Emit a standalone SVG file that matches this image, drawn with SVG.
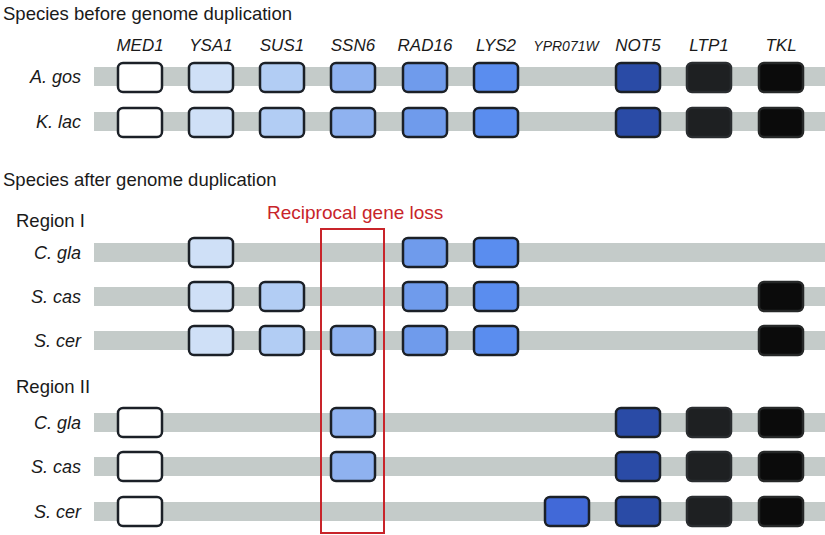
<svg xmlns="http://www.w3.org/2000/svg" width="825" height="535" viewBox="0 0 825 535">
<style>
.bg{fill:#ffffff}
.bar{fill:#c4cbc9}
.g{stroke:#1b2027;stroke-width:2.5}
.title{font-family:"Liberation Sans",Arial,sans-serif;font-size:18.5px;fill:#1a1a1a}
.gene{font-family:"Liberation Sans",Arial,sans-serif;font-size:17px;font-style:italic;fill:#1a1a1a;text-anchor:middle}
.sp{font-family:"Liberation Sans",Arial,sans-serif;font-size:18px;font-style:italic;fill:#1a1a1a;text-anchor:end}
.red{font-family:"Liberation Sans",Arial,sans-serif;font-size:19px;fill:#c8242a}
.c0{fill:#ffffff}.c1{fill:#cfe0f7}.c2{fill:#b2cdf4}.c3{fill:#8fb2f0}.c4{fill:#6f9bec}.c5{fill:#5a8def}.c6{fill:#4169d8}.c7{fill:#2a4ba6}.c8{fill:#1e2022;stroke:#2a2d30}.c9{fill:#0b0b0b;stroke:#262828}
</style>
<rect class="bg" x="0" y="0" width="825" height="535"/>
<text class="title" x="3" y="20">Species before genome duplication</text>
<text class="title" x="3" y="186">Species after genome duplication</text>
<text class="title" x="16" y="227">Region I</text>
<text class="title" x="16" y="393">Region II</text>
<g id="gene-labels">
<text class="gene" x="140" y="51">MED1</text>
<text class="gene" x="211" y="51">YSA1</text>
<text class="gene" x="282" y="51">SUS1</text>
<text class="gene" x="353" y="51">SSN6</text>
<text class="gene" x="425" y="51">RAD16</text>
<text class="gene" x="496" y="51">LYS2</text>
<text class="gene" x="566" y="51" style="font-size:14px">YPR071W</text>
<text class="gene" x="638" y="51">NOT5</text>
<text class="gene" x="709" y="51">LTP1</text>
<text class="gene" x="781" y="51">TKL</text>
</g>
<g id="connectors">
<rect class="bar" x="94" y="67" width="731" height="19"/>
<rect class="bar" x="94" y="112" width="731" height="19"/>
<rect class="bar" x="94" y="243" width="731" height="19"/>
<rect class="bar" x="94" y="287" width="731" height="19"/>
<rect class="bar" x="94" y="331" width="731" height="19"/>
<rect class="bar" x="94" y="413" width="731" height="19"/>
<rect class="bar" x="94" y="457" width="731" height="19"/>
<rect class="bar" x="94" y="502" width="731" height="19"/>
</g>
<g id="row-agos">
<text class="sp" x="81" y="83">A. gos</text>
<rect class="g c0" x="118" y="63" width="44" height="29" rx="5"/>
<rect class="g c1" x="189" y="63" width="44" height="29" rx="5"/>
<rect class="g c2" x="260" y="63" width="44" height="29" rx="5"/>
<rect class="g c3" x="331" y="63" width="44" height="29" rx="5"/>
<rect class="g c4" x="403" y="63" width="44" height="29" rx="5"/>
<rect class="g c5" x="474" y="63" width="44" height="29" rx="5"/>
<rect class="g c7" x="616" y="63" width="44" height="29" rx="5"/>
<rect class="g c8" x="687" y="63" width="44" height="29" rx="5"/>
<rect class="g c9" x="759" y="63" width="44" height="29" rx="5"/>
</g>
<g id="row-klac">
<text class="sp" x="81" y="128">K. lac</text>
<rect class="g c0" x="118" y="108" width="44" height="29" rx="5"/>
<rect class="g c1" x="189" y="108" width="44" height="29" rx="5"/>
<rect class="g c2" x="260" y="108" width="44" height="29" rx="5"/>
<rect class="g c3" x="331" y="108" width="44" height="29" rx="5"/>
<rect class="g c4" x="403" y="108" width="44" height="29" rx="5"/>
<rect class="g c5" x="474" y="108" width="44" height="29" rx="5"/>
<rect class="g c7" x="616" y="108" width="44" height="29" rx="5"/>
<rect class="g c8" x="687" y="108" width="44" height="29" rx="5"/>
<rect class="g c9" x="759" y="108" width="44" height="29" rx="5"/>
</g>
<g id="row-r1-cgla">
<text class="sp" x="81" y="259">C. gla</text>
<rect class="g c1" x="189" y="238" width="44" height="29" rx="5"/>
<rect class="g c4" x="403" y="238" width="44" height="29" rx="5"/>
<rect class="g c5" x="474" y="238" width="44" height="29" rx="5"/>
</g>
<g id="row-r1-scas">
<text class="sp" x="81" y="303">S. cas</text>
<rect class="g c1" x="189" y="282" width="44" height="29" rx="5"/>
<rect class="g c2" x="260" y="282" width="44" height="29" rx="5"/>
<rect class="g c4" x="403" y="282" width="44" height="29" rx="5"/>
<rect class="g c5" x="474" y="282" width="44" height="29" rx="5"/>
<rect class="g c9" x="759" y="282" width="44" height="29" rx="5"/>
</g>
<g id="row-r1-scer">
<text class="sp" x="81" y="347">S. cer</text>
<rect class="g c1" x="189" y="326" width="44" height="29" rx="5"/>
<rect class="g c2" x="260" y="326" width="44" height="29" rx="5"/>
<rect class="g c3" x="331" y="326" width="44" height="29" rx="5"/>
<rect class="g c4" x="403" y="326" width="44" height="29" rx="5"/>
<rect class="g c5" x="474" y="326" width="44" height="29" rx="5"/>
<rect class="g c9" x="759" y="326" width="44" height="29" rx="5"/>
</g>
<g id="row-r2-cgla">
<text class="sp" x="81" y="429">C. gla</text>
<rect class="g c0" x="118" y="408" width="44" height="29" rx="5"/>
<rect class="g c3" x="331" y="408" width="44" height="29" rx="5"/>
<rect class="g c7" x="616" y="408" width="44" height="29" rx="5"/>
<rect class="g c8" x="687" y="408" width="44" height="29" rx="5"/>
<rect class="g c9" x="759" y="408" width="44" height="29" rx="5"/>
</g>
<g id="row-r2-scas">
<text class="sp" x="81" y="473">S. cas</text>
<rect class="g c0" x="118" y="452" width="44" height="29" rx="5"/>
<rect class="g c3" x="331" y="452" width="44" height="29" rx="5"/>
<rect class="g c7" x="616" y="452" width="44" height="29" rx="5"/>
<rect class="g c8" x="687" y="452" width="44" height="29" rx="5"/>
<rect class="g c9" x="759" y="452" width="44" height="29" rx="5"/>
</g>
<g id="row-r2-scer">
<text class="sp" x="81" y="518">S. cer</text>
<rect class="g c0" x="118" y="497" width="44" height="29" rx="5"/>
<rect class="g c6" x="545" y="497" width="44" height="29" rx="5"/>
<rect class="g c7" x="616" y="497" width="44" height="29" rx="5"/>
<rect class="g c8" x="687" y="497" width="44" height="29" rx="5"/>
<rect class="g c9" x="759" y="497" width="44" height="29" rx="5"/>
</g>
<g id="reciprocal-loss">
<text class="red" x="267" y="219">Reciprocal gene loss</text>
<rect x="321" y="229" width="63" height="304" fill="none" stroke="#c8242a" stroke-width="2"/>
</g>
</svg>
